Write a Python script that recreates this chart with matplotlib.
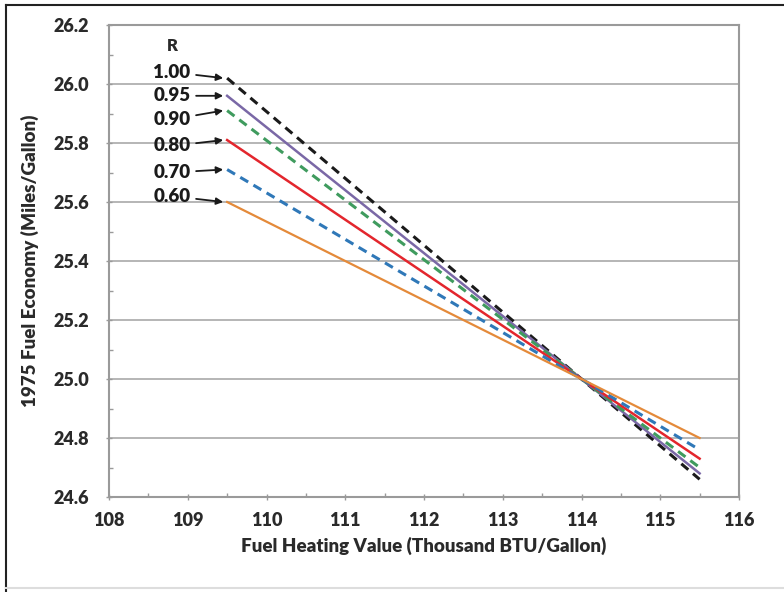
import matplotlib
matplotlib.use("Agg")
import matplotlib.pyplot as plt
from matplotlib.lines import Line2D

# 数据
heating_value = [109.5, 114.0, 115.5]
r_labels = ["1.00", "0.95", "0.90", "0.80", "0.70", "0.60"]
economy = {
    "1.00": [26.02, 25.0, 24.66],
    "0.95": [25.96, 25.0, 24.68],
    "0.90": [25.91, 25.0, 24.70],
    "0.80": [25.81, 25.0, 24.73],
    "0.70": [25.71, 25.0, 24.76],
    "0.60": [25.60, 25.0, 24.80],
}
label_y = [26.04, 25.96, 25.88, 25.79, 25.70, 25.62]

styles = {
    "1.00": dict(color="#1a1a1a", ls=(0, (3, 2)), lw=2.2),
    "0.95": dict(color="#7a68a6", ls="-", lw=1.8),
    "0.90": dict(color="#3f9b5e", ls=(0, (3, 2)), lw=2.2),
    "0.80": dict(color="#e3262d", ls="-", lw=1.8),
    "0.70": dict(color="#2f78b8", ls=(0, (3, 2)), lw=2.2),
    "0.60": dict(color="#e48a3a", ls="-", lw=1.6),
}

plt.rcParams['font.family'] = ['Lato', 'DejaVu Sans']
plt.rcParams['font.weight'] = 'bold'

fig = plt.figure(figsize=(7.84, 5.92), dpi=100)
ax = fig.add_axes([109/784, 1-497/592, 630/784, 472/592])

for r in r_labels:
    ax.plot(heating_value, economy[r], **styles[r], zorder=3)

ax.set_xlim(108, 116)
ax.set_ylim(24.6, 26.2)
ax.set_xticks(range(108, 117))
ax.set_xticks([108.5 + i for i in range(8)], minor=True)
ax.set_yticks([24.6 + 0.2 * i for i in range(9)])
ax.set_yticks([24.7 + 0.2 * i for i in range(8)], minor=True)
ax.set_yticklabels([f"{24.6 + 0.2 * i:.1f}" for i in range(9)])
ax.grid(axis="y", which="major", color="#b0b0b0", lw=1.3)
ax.set_axisbelow(True)
for s in ax.spines.values():
    s.set_color("#9a9a9a")
    s.set_linewidth(1.5)
ax.tick_params(axis="both", which="major", labelsize=13, color="#9a9a9a", length=5, width=1, direction="inout")
ax.tick_params(axis="both", which="minor", color="#9a9a9a", length=3, width=1, direction="in")
ax.tick_params(axis="x", pad=8)
ax.tick_params(axis="y", pad=12)
for t in ax.get_xticklabels() + ax.get_yticklabels():
    t.set_fontweight("heavy")
    t.set_color("#2a2a2a")

ax.set_xlabel("Fuel Heating Value (Thousand BTU/Gallon)", fontsize=13.5, fontweight="heavy", color="#2a2a2a", labelpad=6)
ax.set_ylabel("1975 Fuel Economy (Miles/Gallon)", fontsize=13.5, fontweight="heavy", color="#2a2a2a", labelpad=10)

# 标注
ax.text(108.8, 26.13, "R", fontsize=12, fontweight="heavy", ha="center", va="center", color="#2a2a2a")
for r, ly in zip(r_labels, label_y):
    y0 = economy[r][0]
    ax.annotate(r, xy=(109.45, y0), xytext=(108.8, ly), fontsize=13.5, fontweight="heavy",
                ha="center", va="center", color="#1a1a1a",
                arrowprops=dict(arrowstyle="-|>", color="#1a1a1a", lw=1.3, shrinkA=2, shrinkB=0,
                                mutation_scale=10))

# 外框
fig.add_artist(Line2D([6/784, 6/784], [0, 1 - 5/592], color="#222222", lw=1.5))
fig.add_artist(Line2D([6/784, 1], [1 - 5/592, 1 - 5/592], color="#222222", lw=1.5))
fig.add_artist(Line2D([6/784, 1], [4/592, 4/592], color="#dddddd", lw=1.5))

fig.savefig("out.png", dpi=100)
